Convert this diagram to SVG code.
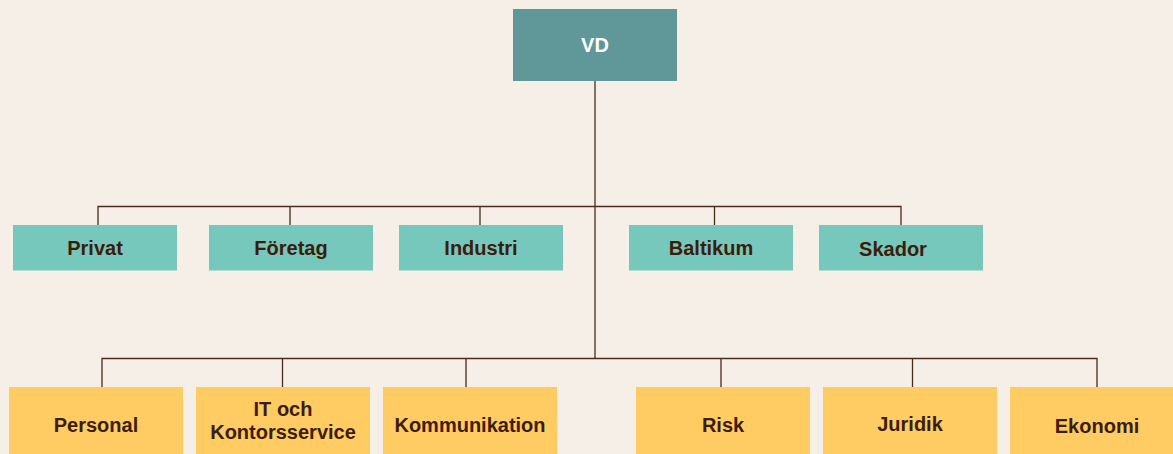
<svg xmlns="http://www.w3.org/2000/svg" width="1173" height="454" viewBox="0 0 1173 454">
<style>
.t{font-family:"Liberation Sans",Arial,sans-serif;font-weight:bold;font-size:20px;fill:#3d1c0a;text-anchor:middle}
.w{fill:#ffffff}
.teal{fill:#76c8bc}
.yel{fill:#fecc63}
.top{fill:#609799}
.ln{stroke:#4b2c1c;stroke-width:1.3;fill:none}
</style>
<rect width="1173" height="454" fill="#f6efe8"/>
<g id="connectors">
<path class="ln" d="M595 81V358"/>
<path class="ln" d="M98 225V206.5H901V225M290 206.5V225M480 206.5V225M714.5 206.5V225"/>
<path class="ln" d="M102 387V358.5H1097V387M282.5 358.5V387M466 358.5V387M721 358.5V387M912.5 358.5V387"/>
</g>
<g id="vd"><rect class="top" x="513" y="9" width="164" height="72"/><text class="t w" x="595" y="52">VD</text></g>
<g id="privat"><rect class="teal" x="13" y="225" width="164" height="45.5"/><text class="t" x="95" y="255">Privat</text></g>
<g id="foretag"><rect class="teal" x="209" y="225" width="164" height="45.5"/><text class="t" x="291" y="255">Företag</text></g>
<g id="industri"><rect class="teal" x="399" y="225" width="164" height="45.5"/><text class="t" x="481" y="255">Industri</text></g>
<g id="baltikum"><rect class="teal" x="629" y="225" width="164" height="45.5"/><text class="t" x="711" y="255">Baltikum</text></g>
<g id="skador"><rect class="teal" x="819" y="225" width="164" height="45.5"/><text class="t" x="893" y="256">Skador</text></g>
<g id="personal"><rect class="yel" x="9" y="387" width="174" height="67"/><text class="t" x="96" y="432">Personal</text></g>
<g id="it"><rect class="yel" x="196" y="387" width="174" height="67"/><text class="t" x="283" y="416">IT och</text><text class="t" x="283" y="439">Kontorsservice</text></g>
<g id="kommunikation"><rect class="yel" x="383" y="387" width="174" height="67"/><text class="t" x="470" y="432">Kommunikation</text></g>
<g id="risk"><rect class="yel" x="636" y="387" width="174" height="67"/><text class="t" x="723" y="432">Risk</text></g>
<g id="juridik"><rect class="yel" x="823" y="387" width="174" height="67"/><text class="t" x="910" y="431">Juridik</text></g>
<g id="ekonomi"><rect class="yel" x="1010" y="387" width="174" height="67"/><text class="t" x="1097" y="433">Ekonomi</text></g>
</svg>
